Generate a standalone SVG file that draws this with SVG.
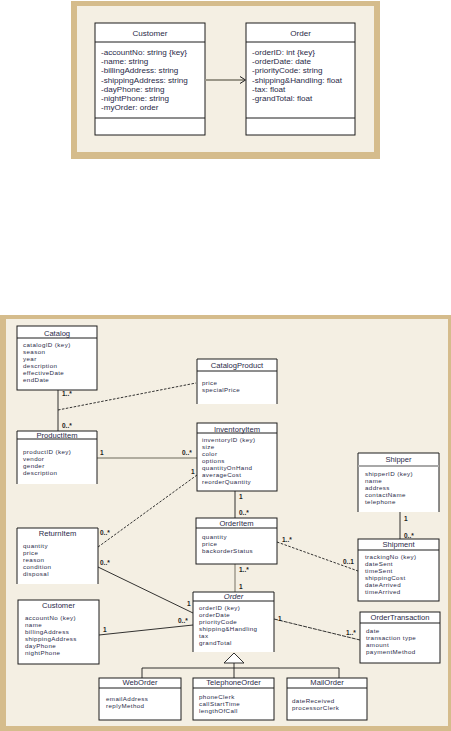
<svg xmlns="http://www.w3.org/2000/svg" width="451" height="731" viewBox="0 0 451 731">
<style>
.tan{fill:#d5bc8c}
.cream{fill:#f4efe3}
.box{fill:#ffffff;stroke:#1c1c1c;stroke-width:1}
.fill{fill:#ffffff}
.edge{fill:none;stroke:#1c1c1c;stroke-width:1}
.t{font-family:"Liberation Sans",Arial,sans-serif;font-size:7.6px;fill:#2a2a48}
.a{font-family:"Liberation Sans",Arial,sans-serif;font-size:6.2px;letter-spacing:0.4px;fill:#2a2a48}
.tt{font-family:"Liberation Sans",Arial,sans-serif;font-size:8.1px;fill:#2a2a48}
.h{text-anchor:middle}
.m{font-family:"Liberation Sans",Arial,sans-serif;font-size:6.5px;fill:#1c1c1c;font-weight:bold}
.c{fill:none;stroke:#1c1c1c;stroke-width:0.9}
.dash{stroke-dasharray:2.5,1.5}
.gray{fill:none;stroke:#9a9688;stroke-width:2}
</style>

<!-- top frame -->
<rect class="tan" x="71" y="1" width="309" height="158"/>
<rect class="cream" x="77" y="6" width="297" height="146"/>

<g id="top-customer">
<rect class="box" x="95" y="23" width="110" height="112"/>
<line class="edge" x1="95" y1="42" x2="205" y2="42"/>
<line class="edge" x1="95" y1="118" x2="205" y2="118"/>
<text class="tt h" x="150" y="36">Customer</text>
<text class="tt" x="101" y="55">-accountNo: string {key}</text>
<text class="tt" x="101" y="64.2">-name: string</text>
<text class="tt" x="101" y="73.4">-billingAddress: string</text>
<text class="tt" x="101" y="82.6">-shippingAddress: string</text>
<text class="tt" x="101" y="91.8">-dayPhone: string</text>
<text class="tt" x="101" y="101">-nightPhone: string</text>
<text class="tt" x="101" y="110.2">-myOrder: order</text>
</g>

<g id="top-order">
<rect class="box" x="246" y="23" width="109" height="112"/>
<line class="edge" x1="246" y1="42" x2="355" y2="42"/>
<line class="edge" x1="246" y1="118" x2="355" y2="118"/>
<text class="tt h" x="300.5" y="36">Order</text>
<text class="tt" x="252" y="55">-orderID: int {key}</text>
<text class="tt" x="252" y="64.2">-orderDate: date</text>
<text class="tt" x="252" y="73.4">-priorityCode: string</text>
<text class="tt" x="252" y="82.6">-shipping&amp;Handling: float</text>
<text class="tt" x="252" y="91.8">-tax: float</text>
<text class="tt" x="252" y="101">-grandTotal: float</text>
</g>

<g id="top-connectors">
<line class="gray" x1="205" y1="80" x2="244" y2="80"/>
<path class="edge" d="M240,76.5 L245.5,80 L240,83.5"/>
</g>

<!-- bottom frame -->
<rect class="tan" x="0" y="315" width="451" height="416"/>
<rect class="cream" x="6" y="319" width="442" height="407"/>

<g id="connectors">
<line class="c" x1="58" y1="390" x2="58" y2="431"/>
<line class="c dash" x1="58" y1="410" x2="196" y2="383"/>
<line class="gray" x1="97" y1="458" x2="197" y2="458" style="stroke-width:1.6"/>
<line class="c dash" x1="98" y1="547" x2="197" y2="475"/>
<line class="c" x1="98" y1="567" x2="193" y2="613"/>
<line class="c" x1="99" y1="635" x2="193" y2="625"/>
<line class="c" x1="235" y1="491" x2="235" y2="518"/>
<line class="gray" x1="235" y1="564" x2="235" y2="592" style="stroke-width:1.4"/>
<line class="c dash" x1="277" y1="542" x2="358" y2="571"/>
<line class="c" x1="400" y1="512" x2="400" y2="539"/>
<line class="c dash" x1="274" y1="619" x2="360" y2="640" style="stroke-dasharray:4,1"/>
<path class="c" d="M234,653 L244,663 L224,663 Z" style="fill:#ffffff"/>
<path class="c" d="M234,663 V678 M142,678 V668 H339 V678"/>
<text class="m" x="62" y="396">1..*</text>
<text class="m" x="62" y="428">0..*</text>
<text class="m" x="100" y="455">1</text>
<text class="m" x="182" y="455">0..*</text>
<text class="m" x="191" y="474">1</text>
<text class="m" x="100" y="535">0..*</text>
<text class="m" x="100" y="565">0..*</text>
<text class="m" x="187" y="606">1</text>
<text class="m" x="103" y="632">1</text>
<text class="m" x="178" y="623">0..*</text>
<text class="m" x="239" y="499">1</text>
<text class="m" x="239" y="515">0..*</text>
<text class="m" x="239" y="572">1..*</text>
<text class="m" x="239" y="589">1</text>
<text class="m" x="282" y="542">1..*</text>
<text class="m" x="343" y="564">0..1</text>
<text class="m" x="404" y="521">1</text>
<text class="m" x="404" y="538">0..*</text>
<text class="m" x="278" y="621">1</text>
<text class="m" x="346" y="635">1..*</text>
</g>

<g id="catalog">
<rect class="box" x="17" y="326" width="80" height="64"/>
<line class="edge" x1="17" y1="338" x2="97" y2="338"/>
<text class="t h" x="57" y="335.5">Catalog</text>
<text class="a" x="23" y="347">catalogID (key)</text>
<text class="a" x="23" y="354">season</text>
<text class="a" x="23" y="361">year</text>
<text class="a" x="23" y="368">description</text>
<text class="a" x="23" y="375">effectiveDate</text>
<text class="a" x="23" y="382">endDate</text>
</g>

<g id="catalogproduct">
<rect class="fill" x="197" y="359" width="80" height="45"/>
<path class="edge" d="M197,404 V359 H277 V404"/>
<line class="edge" x1="197" y1="371" x2="277" y2="371"/>
<text class="t h" x="237" y="368">CatalogProduct</text>
<text class="a" x="202" y="385">price</text>
<text class="a" x="202" y="392">specialPrice</text>
</g>

<g id="productitem">
<rect class="fill" x="17" y="431" width="80" height="53"/>
<path class="edge" d="M17,484 V431 H97 V484"/>
<line class="edge" x1="17" y1="439" x2="97" y2="439"/>
<text class="t h" x="57" y="437.5">ProductItem</text>
<text class="a" x="23" y="454">productID (key)</text>
<text class="a" x="23" y="461">vendor</text>
<text class="a" x="23" y="468">gender</text>
<text class="a" x="23" y="475">description</text>
</g>

<g id="inventoryitem">
<rect class="box" x="197" y="423" width="80" height="68"/>
<line class="edge" x1="197" y1="433" x2="277" y2="433"/>
<text class="t h" x="237" y="431.5">InventoryItem</text>
<text class="a" x="202" y="442">inventoryID (key)</text>
<text class="a" x="202" y="449">size</text>
<text class="a" x="202" y="456">color</text>
<text class="a" x="202" y="463">options</text>
<text class="a" x="202" y="470">quantityOnHand</text>
<text class="a" x="202" y="477">averageCost</text>
<text class="a" x="202" y="484">reorderQuantity</text>
</g>

<g id="returnitem">
<rect class="fill" x="17" y="528" width="81" height="56"/>
<path class="edge" d="M17,584 V528 H98 V584"/>
<text class="t h" x="57.5" y="535.5">ReturnItem</text>
<text class="a" x="23" y="548">quantity</text>
<text class="a" x="23" y="555">price</text>
<text class="a" x="23" y="562">reason</text>
<text class="a" x="23" y="569">condition</text>
<text class="a" x="23" y="576">disposal</text>
</g>

<g id="customer">
<rect class="box" x="18" y="600" width="81" height="64"/>
<text class="t h" x="58.5" y="607.5">Customer</text>
<text class="a" x="25" y="620">accountNo (key)</text>
<text class="a" x="25" y="627">name</text>
<text class="a" x="25" y="634">billingAddress</text>
<text class="a" x="25" y="641">shippingAddress</text>
<text class="a" x="25" y="648">dayPhone</text>
<text class="a" x="25" y="655">nightPhone</text>
</g>

<g id="orderitem">
<rect class="box" x="196" y="518" width="81" height="46"/>
<line class="edge" x1="196" y1="528" x2="277" y2="528"/>
<text class="t h" x="236.5" y="525.5">OrderItem</text>
<text class="a" x="202" y="539">quantity</text>
<text class="a" x="202" y="546">price</text>
<text class="a" x="202" y="553">backorderStatus</text>
</g>

<g id="order">
<rect class="fill" x="193" y="592" width="81" height="60"/>
<path class="edge" d="M193,652 V592 H274 V652"/>
<line class="edge" x1="193" y1="601" x2="274" y2="601"/>
<text class="t h" x="233.5" y="598.5" font-style="italic">Order</text>
<text class="a" x="199" y="609.5">orderID (key)</text>
<text class="a" x="199" y="616.5">orderDate</text>
<text class="a" x="199" y="623.5">priorityCode</text>
<text class="a" x="199" y="630.5">shipping&amp;Handling</text>
<text class="a" x="199" y="637.5">tax</text>
<text class="a" x="199" y="644.5">grandTotal</text>
</g>

<g id="shipper">
<rect class="fill" x="358" y="453" width="81" height="59"/>
<path class="edge" d="M358,512 V453 H439 V512"/>
<line x1="358" y1="466" x2="439" y2="466" stroke="#a8a8a8" stroke-width="2"/>
<text class="t h" x="398.5" y="461.5">Shipper</text>
<text class="a" x="365" y="476">shipperID (key)</text>
<text class="a" x="365" y="483">name</text>
<text class="a" x="365" y="490">address</text>
<text class="a" x="365" y="497">contactName</text>
<text class="a" x="365" y="504">telephone</text>
</g>

<g id="shipment">
<rect class="box" x="358" y="539" width="81" height="62"/>
<line class="edge" x1="358" y1="550" x2="439" y2="550"/>
<text class="t h" x="398.5" y="547">Shipment</text>
<text class="a" x="365" y="559">trackingNo (key)</text>
<text class="a" x="365" y="566">dateSent</text>
<text class="a" x="365" y="573">timeSent</text>
<text class="a" x="365" y="580">shippingCost</text>
<text class="a" x="365" y="587">dateArrived</text>
<text class="a" x="365" y="594">timeArrived</text>
</g>

<g id="ordertransaction">
<rect class="box" x="360" y="612" width="80" height="51"/>
<line class="edge" x1="360" y1="623" x2="440" y2="623"/>
<text class="t h" x="400" y="619.5">OrderTransaction</text>
<text class="a" x="366" y="633">date</text>
<text class="a" x="366" y="640">transaction type</text>
<text class="a" x="366" y="647">amount</text>
<text class="a" x="366" y="654">paymentMethod</text>
</g>

<g id="weborder">
<rect class="box" x="99" y="678" width="82" height="42"/>
<line class="edge" x1="99" y1="688" x2="181" y2="688"/>
<text class="t h" x="140" y="685">WebOrder</text>
<text class="a" x="106" y="701">emailAddress</text>
<text class="a" x="106" y="708">replyMethod</text>
</g>

<g id="telephoneorder">
<rect class="box" x="193" y="678" width="81" height="42"/>
<line class="edge" x1="193" y1="688" x2="274" y2="688"/>
<text class="t h" x="233.5" y="685">TelephoneOrder</text>
<text class="a" x="199" y="699">phoneClerk</text>
<text class="a" x="199" y="706">callStartTime</text>
<text class="a" x="199" y="713">lengthOfCall</text>
</g>

<g id="mailorder">
<rect class="box" x="287" y="678" width="80" height="42"/>
<line class="edge" x1="287" y1="688" x2="367" y2="688"/>
<text class="t h" x="327" y="685">MailOrder</text>
<text class="a" x="292" y="703">dateReceived</text>
<text class="a" x="292" y="710">processorClerk</text>
</g>
</svg>
